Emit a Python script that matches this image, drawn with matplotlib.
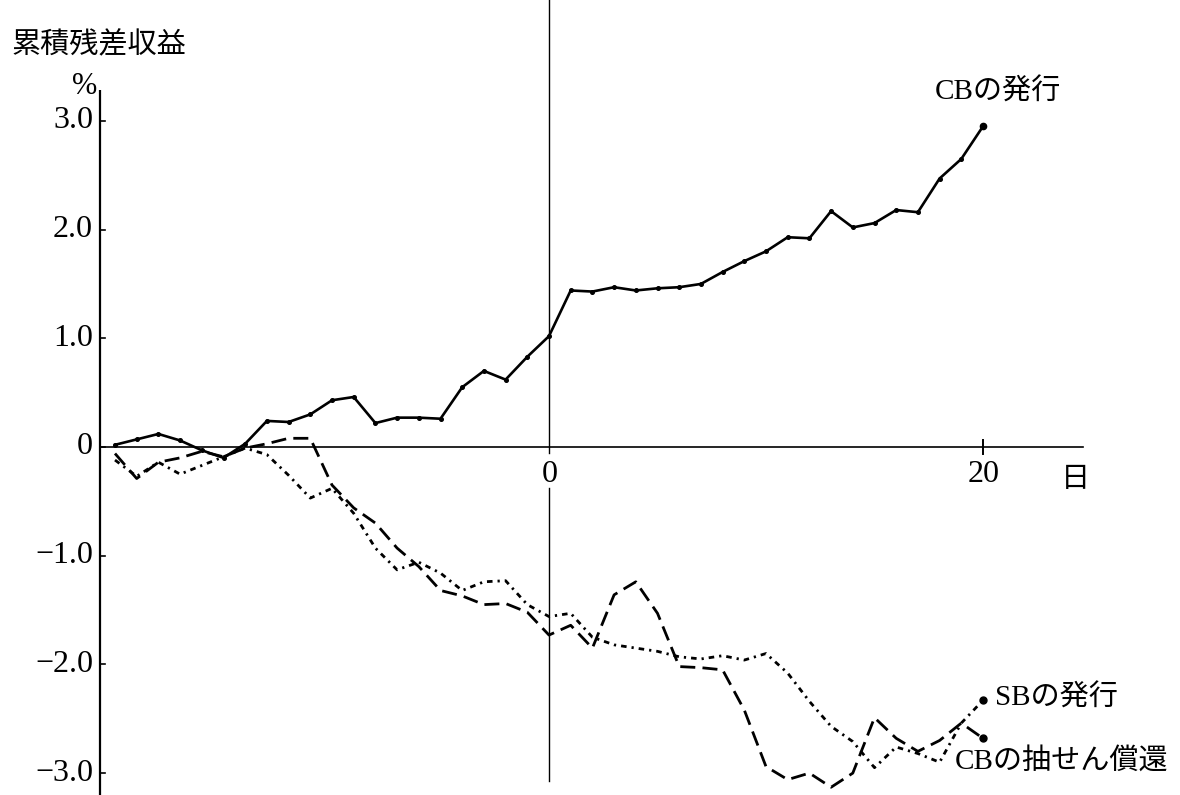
import matplotlib
matplotlib.use("Agg")
import matplotlib.pyplot as plt

# ---------------- data ----------------
days = list(range(-20, 21))

cb_issue = [0.02, 0.07, 0.12, 0.06, -0.03, -0.10, 0.03, 0.24, 0.23, 0.30,
            0.43, 0.46, 0.22, 0.27, 0.27, 0.26, 0.55, 0.70, 0.62, 0.83,
            1.02, 1.44, 1.43, 1.47, 1.44, 1.46, 1.47, 1.50, 1.61, 1.71,
            1.80, 1.93, 1.92, 2.17, 2.02, 2.06, 2.18, 2.16, 2.47, 2.65, 2.95]

cb_lottery = [-0.06, -0.29, -0.14, -0.10, -0.04, -0.09, -0.01, 0.03, 0.08, 0.08,
              -0.35, -0.56, -0.70, -0.93, -1.10, -1.32, -1.37, -1.45, -1.44, -1.52,
              -1.73, -1.64, -1.85, -1.36, -1.24, -1.53, -2.02, -2.03, -2.05, -2.42,
              -2.94, -3.06, -3.00, -3.13, -3.00, -2.49, -2.68, -2.80, -2.70, -2.54, -2.68]

sb_issue = [-0.12, -0.27, -0.14, -0.25, -0.17, -0.09, -0.01, -0.07, -0.26, -0.47,
            -0.38, -0.61, -0.93, -1.13, -1.06, -1.16, -1.32, -1.24, -1.23, -1.45,
            -1.56, -1.53, -1.75, -1.82, -1.85, -1.88, -1.93, -1.95, -1.92, -1.96,
            -1.90, -2.08, -2.34, -2.57, -2.71, -2.95, -2.76, -2.82, -2.90, -2.54, -2.33]

y_ticks = [3.0, 2.0, 1.0, 0.0, -1.0, -2.0, -3.0]
y_tick_labels = ["3.0", "2.0", "1.0", "0", "−1.0", "−2.0", "−3.0"]
x_tick_labels = {0: "0", 20: "20"}

y_title = "累積残差収益"
y_unit = "%"
x_unit = "日"
label_cb_issue = "CBの発行"
label_sb_issue = "SBの発行"
label_cb_lottery = "CBの抽せん償還"

# ---------------- layout helpers (pixel -> data) ----------------
W, H = 1180, 795
X0, DX = 549.0, 21.7      # pixel of day 0, pixels per day
Y0, DY = 447.0, 108.7     # pixel of 0 %, pixels per 1 %


def px(x):
    return (x - X0) / DX


def py(y):
    return (Y0 - y) / DY


FONT = ["Liberation Serif", "Noto Sans CJK JP", "DejaVu Sans"]
plt.rcParams["font.family"] = FONT

fig = plt.figure(figsize=(W / 100, H / 100), dpi=100)
ax = fig.add_axes([0, 0, 1, 1])
ax.set_xlim(px(0), px(W))
ax.set_ylim(py(H), py(0))
ax.axis("off")

k = "black"
# axes lines
ax.plot([px(100), px(100)], [py(90), py(H)], color=k, lw=1.6, solid_capstyle="butt")
ax.plot([px(100), px(1083)], [0, 0], color=k, lw=1.2)
ax.plot([0, 0], [py(0), py(453)], color=k, lw=1.0)
ax.plot([0, 0], [py(488), py(781)], color=k, lw=1.0)
# y ticks
for v in y_ticks:
    ax.plot([px(100), px(105)], [v, v], color=k, lw=1.2)
# x tick at 20
ax.plot([20, 20], [0.06, -0.06], color=k, lw=1.4)

# data lines
ax.plot(days, cb_issue, color=k, lw=1.9, marker="o", markersize=2.6, solid_joinstyle="miter")
ax.plot(days[-1:], cb_issue[-1:], "o", color=k, markersize=4.5)

ax.plot(days, cb_lottery, color=k, lw=2.0, dashes=(5.4, 2.6))
ax.plot(days[-1:], cb_lottery[-1:], "o", color=k, markersize=5)

ax.plot(days, sb_issue, color=k, lw=2.0, dashes=(2.0, 1.8, 0.8, 1.8))
ax.plot(days[-1:], sb_issue[-1:], "o", color=k, markersize=5)

# texts
fs_num = 23
fs_jp = 21
ax.text(px(12), py(46), y_title, fontsize=fs_jp, ha="left", va="center")
ax.text(px(85), py(87), y_unit, fontsize=22, ha="center", va="center")
for v, lab in zip(y_ticks, y_tick_labels):
    ax.text(px(93), v, lab, fontsize=fs_num, ha="right", va="center")
for d, lab in x_tick_labels.items():
    ax.text(d + 0.05, py(474), lab, fontsize=fs_num, ha="center", va="center")
ax.text(px(1075), py(480), x_unit, fontsize=fs_jp, ha="center", va="center")

ax.text(px(935), py(92), label_cb_issue, fontsize=fs_jp, ha="left", va="center")
ax.text(px(995), py(698), label_sb_issue, fontsize=fs_jp, ha="left", va="center")
ax.text(px(955), py(761), label_cb_lottery, fontsize=fs_jp, ha="left", va="center")

fig.savefig("out.png", dpi=100, facecolor="white")
